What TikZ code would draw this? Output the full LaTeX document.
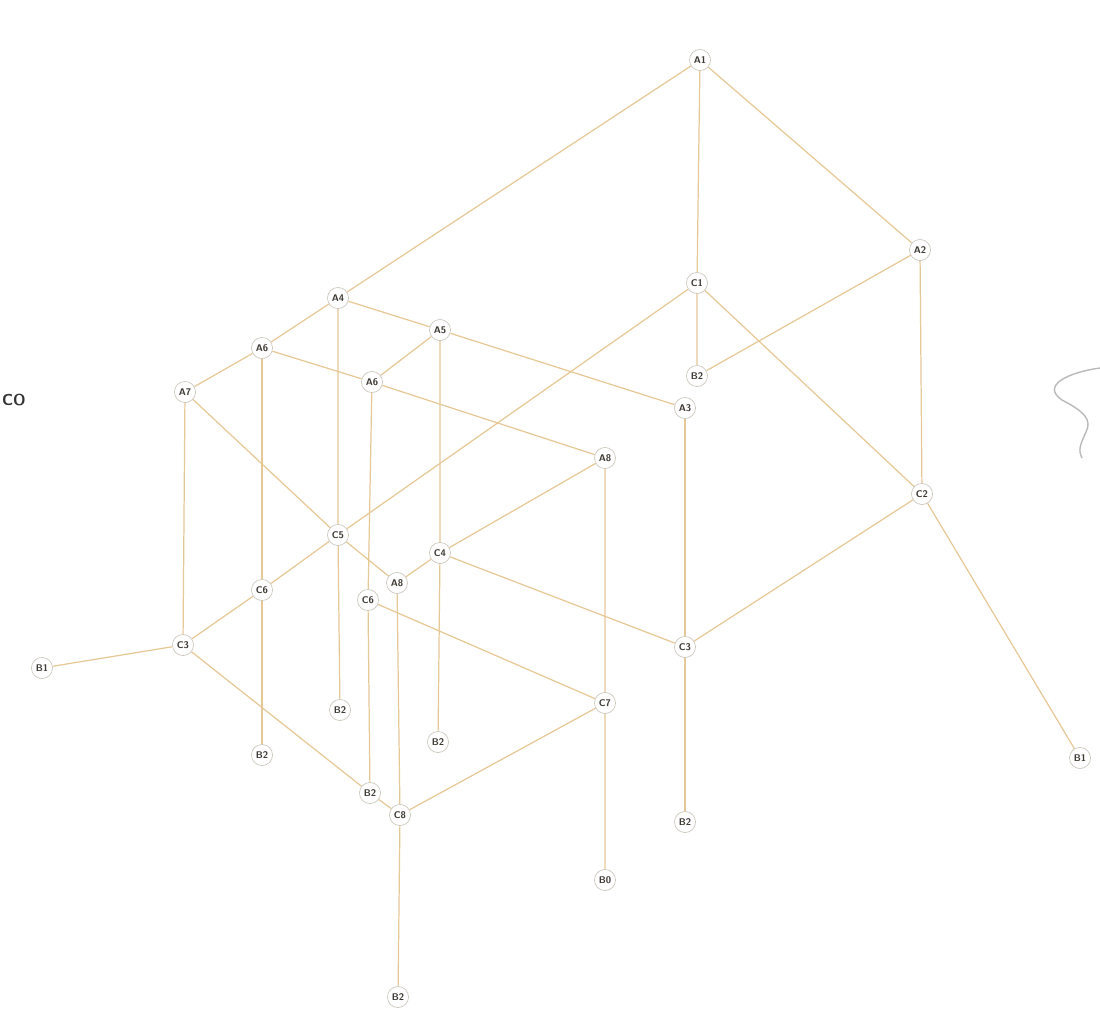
\documentclass[tikz,border=0pt]{standalone}
\usepackage{xcolor}
\usetikzlibrary{backgrounds}
\definecolor{edgetan}{RGB}{230,200,150}
\definecolor{ringgrey}{RGB}{205,200,190}
\definecolor{labelgrey}{RGB}{60,56,50}

\begin{document}
\begin{tikzpicture}[x=0.02cm,y=-0.02cm,
    vert/.style={circle,draw=ringgrey,fill=white,line width=0.4pt,inner sep=0pt,
      minimum size=12pt,font=\fontsize{5.5}{6}\selectfont\sffamily\bfseries,text=labelgrey},
    link/.style={draw=edgetan,line width=0.7pt}]

  \useasboundingbox (0,0) rectangle (1100,1018);

  % ====================================================
  % VERTICES
  % ====================================================

  % A row
  \node[vert] (a1)  at (700,60)  {A1};
  \node[vert] (a2)  at (920,250) {A2};
  \node[vert] (a4)  at (338,298) {A4};
  \node[vert] (a5)  at (440,330) {A5};
  \node[vert] (a6)  at (262,348) {A6};
  \node[vert] (a6b) at (372,382) {A6};
  \node[vert] (a7)  at (185,392) {A7};
  \node[vert] (a3)  at (685,408) {A3};
  \node[vert] (a8)  at (605,458) {A8};
  \node[vert] (a9)  at (397,583) {A8};

  % C row
  \node[vert] (c1)  at (697,283) {C1};
  \node[vert] (c2)  at (922,494) {C2};
  \node[vert] (c5)  at (338,535) {C5};
  \node[vert] (c4)  at (440,553) {C4};
  \node[vert] (c6)  at (262,590) {C6};
  \node[vert] (c6b) at (368,600) {C6};
  \node[vert] (c3)  at (183,645) {C3};
  \node[vert] (c3b) at (685,647) {C3};
  \node[vert] (c7)  at (605,703) {C7};
  \node[vert] (c8)  at (400,815) {C8};

  % B row
  \node[vert] (b2a) at (697,376) {B2};
  \node[vert] (b1a) at (42,668)  {B1};
  \node[vert] (b2b) at (340,710) {B2};
  \node[vert] (b2c) at (438,742) {B2};
  \node[vert] (b2d) at (262,755) {B2};
  \node[vert] (b1b) at (1080,758) {B1};
  \node[vert] (b2e) at (370,793) {B2};
  \node[vert] (b2f) at (685,822) {B2};
  \node[vert] (b0)  at (605,880) {B0};
  \node[vert] (b2g) at (398,997) {B2};

  % ====================================================
  % EDGES (behind the vertices)
  % ====================================================
  \begin{scope}[on background layer]
    \path[link] (a1) -- (a4) (a1) -- (c1) (a1) -- (a2);
    \path[link] (a2) -- (b2a) (a2) -- (c2);
    \path[link] (c1) -- (b2a) (c1) -- (c5) (c1) -- (c2);

    \path[link] (a4) -- (a6) (a4) -- (a5) (a5) -- (a3) (a4) -- (c5) (c5) -- (b2b);
    \path[link] (a5) -- (a6b) (a5) -- (c4) (c4) -- (b2c);
    \path[link] (a6) -- (a7) (a6) -- (a6b) (a6b) -- (a8);
    \path[link] (a6) -- (c6) (c6) -- (b2d);
    \path[link] (a6b) -- (c6b) (c6b) -- (b2e);
    \path[link] (a7) -- (c3) (a7) -- (c5) (c5) -- (a9);

    \path[link] (a8) -- (c7) (c7) -- (b0) (a8) -- (c4);
    \path[link] (a3) -- (c3b) (c3b) -- (b2f);
    \path[link] (c2) -- (c3b) (c2) -- (b1b);

    \path[link] (c4) -- (c3b) (c4) -- (a9);
    \path[link] (c5) -- (c6) (c6) -- (c3) (c3) -- (b1a);
    \path[link] (c3) -- (b2e) (b2e) -- (c8);
    \path[link] (c6b) -- (c7) (c7) -- (c8);
    \path[link] (a9) -- (c8) (c8) -- (b2g);
  \end{scope}

  % ====================================================
  % CUT-OFF PIECES AT THE EDGES
  % ====================================================
  \node[font=\fontsize{9}{10}\selectfont\sffamily\bfseries,text=black!80,anchor=east] (cutlabel) at (32,400) {CO};
  \draw[gray!55,line width=0.8pt] (1100,368) .. controls (1070,372) and (1040,385) .. (1062,400)
    .. controls (1085,412) and (1092,420) .. (1086,432) .. controls (1080,445) and (1078,450) .. (1082,458);
\end{tikzpicture}
\end{document}
